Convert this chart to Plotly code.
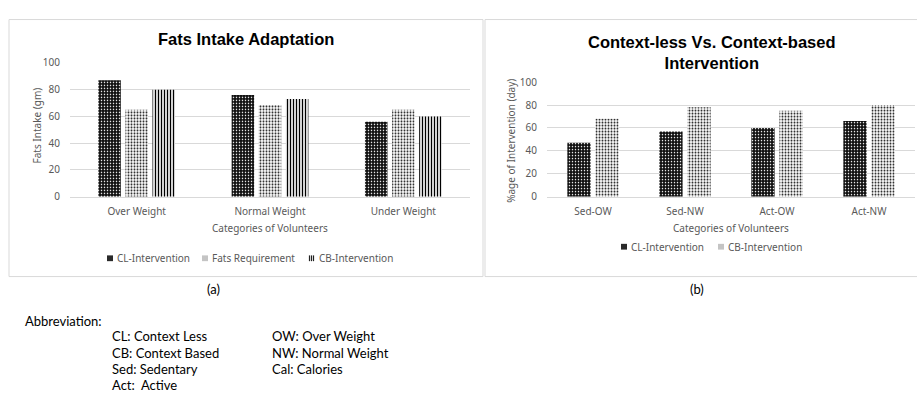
import plotly.graph_objects as go

W, H = 917, 401

# ---- data: chart (a)
cats_a = ["Over Weight", "Normal Weight", "Under Weight"]
cl_a = [87, 76, 56]
fats_req = [65, 68.5, 65]
cb_a = [80, 73, 60]

# ---- data: chart (b)
cats_b = ["Sed-OW", "Sed-NW", "Act-OW", "Act-NW"]
cl_b = [47, 57, 60, 66]
cb_b = [68, 78, 75, 80]

y_ticks = [0, 20, 40, 60, 80, 100]

def px_x(p):
    return p / W

def px_y(p):
    return 1 - p / H

PAT_CL = dict(shape=".", bgcolor="#111111", fgcolor="white", size=3, solidity=0.2, fillmode="replace")
PAT_DOT = dict(shape=".", bgcolor="white", fgcolor="#222222", size=3, solidity=0.35, fillmode="replace")
PAT_VERT = dict(shape="|", bgcolor="white", fgcolor="black", size=3, solidity=0.45, fillmode="replace")

fig = go.Figure()
fig.add_trace(go.Bar(x=cats_a, y=cl_a, name="CL-Intervention", xaxis="x", yaxis="y",
                     marker=dict(color="#111111", pattern=PAT_CL, line=dict(width=0))))
fig.add_trace(go.Bar(x=cats_a, y=fats_req, name="Fats Requirement", xaxis="x", yaxis="y",
                     marker=dict(color="white", pattern=PAT_DOT, line=dict(width=0))))
fig.add_trace(go.Bar(x=cats_a, y=cb_a, name="CB-Intervention", xaxis="x", yaxis="y",
                     marker=dict(color="white", pattern=PAT_VERT, line=dict(width=0))))
fig.add_trace(go.Bar(x=cats_b, y=cl_b, name="CL-Intervention", xaxis="x2", yaxis="y2",
                     marker=dict(color="#111111", pattern=PAT_CL, line=dict(width=0))))
fig.add_trace(go.Bar(x=cats_b, y=cb_b, name="CB-Intervention", xaxis="x2", yaxis="y2",
                     marker=dict(color="white", pattern=PAT_DOT, line=dict(width=0))))

FAM = "Noto Sans, DejaVu Sans, sans-serif"
tick_font = dict(family=FAM, size=10, color="#595959")
grid = "#d9d9d9"

axis_common_y = dict(range=[0, 100], tickvals=y_ticks, showgrid=True, gridcolor=grid, gridwidth=1,
                     zeroline=False, showline=False, tickfont=tick_font, ticks="", ticklabelstandoff=9,
                     fixedrange=True)
axis_common_x = dict(showgrid=False, showline=True, linecolor=grid, linewidth=1, zeroline=False,
                     tickfont=tick_font, ticks="", ticklabelstandoff=5, fixedrange=True)

fig.update_layout(
    width=W, height=H,
    margin=dict(l=0, r=0, t=0, b=0),
    paper_bgcolor="white", plot_bgcolor="white",
    showlegend=False,
    barmode="group", bargap=0.39, bargroupgap=0.17,
    xaxis=dict(domain=[px_x(70), px_x(470)], anchor="y", **axis_common_x),
    yaxis=dict(domain=[px_y(196), px_y(57)], anchor="x", **axis_common_y),
    xaxis2=dict(domain=[px_x(547), px_x(915)], anchor="y2", **axis_common_x),
    yaxis2=dict(domain=[px_y(196), px_y(77)], anchor="x2", **axis_common_y),
)

# chart borders
fig.add_shape(type="rect", xref="paper", yref="paper", x0=px_x(9), x1=px_x(483),
              y0=px_y(279), y1=px_y(12), line=dict(color="#d9d9d9", width=1), layer="below")
fig.add_shape(type="rect", xref="paper", yref="paper", x0=px_x(485), x1=px_x(940),
              y0=px_y(279), y1=px_y(12), line=dict(color="#d9d9d9", width=1), layer="below")

title_font = dict(family="Liberation Sans, Arial, sans-serif", size=16.5, color="black")
lab_font = dict(family=FAM, size=10, color="#595959")
doc_font = dict(family="Lato, Noto Sans, sans-serif", size=13, color="black")

def ann(text, x, y, font, xanchor="center", angle=0):
    fig.add_annotation(text=text, x=px_x(x), y=px_y(y), xref="paper", yref="paper",
                       showarrow=False, font=font, xanchor=xanchor, yanchor="middle",
                       textangle=angle)

ann("<b>Fats Intake Adaptation</b>", 246, 32, title_font)
ann("<b>Context-less Vs. Context-based<br>Intervention</b>", 712, 46, title_font)
ann("Categories of Volunteers", 270, 229, lab_font)
ann("Categories of Volunteers", 731, 229, lab_font)
ann("Fats Intake (gm)", 37, 122, lab_font, angle=-90)
ann("%age of Intervention (day)", 511, 138, lab_font, angle=-90)

# ---- manual legends (small swatches + text)
def swatch(x, y, kind):
    x0, x1, y0, y1 = px_x(x - 3), px_x(x + 3), px_y(y + 3), px_y(y - 3)
    if kind == "cl":
        fig.add_shape(type="rect", xref="paper", yref="paper", x0=x0, x1=x1, y0=y0, y1=y1,
                      fillcolor="#2a2a2a", line=dict(width=0))
    elif kind == "dot":
        fig.add_shape(type="rect", xref="paper", yref="paper", x0=x0, x1=x1, y0=y0, y1=y1,
                      fillcolor="#c4c4c4", line=dict(width=0))
    else:
        for dx in (-2.5, -0.5, 1.5):
            fig.add_shape(type="line", xref="paper", yref="paper", x0=px_x(x + dx), x1=px_x(x + dx),
                          y0=y0, y1=y1, line=dict(color="#222222", width=1.2))

leg_font = dict(family=FAM, size=10, color="#595959")
legend_a = [("CL-Intervention", 110, "cl"), ("Fats Requirement", 205, "dot"), ("CB-Intervention", 312, "vert")]
for name, sx, kind in legend_a:
    swatch(sx, 260, kind)
    ann(name, sx + 5, 260, leg_font, xanchor="left")
legend_b = [("CL-Intervention", 624, "cl"), ("CB-Intervention", 721, "dot")]
for name, sx, kind in legend_b:
    swatch(sx, 248, kind)
    ann(name, sx + 5, 248, leg_font, xanchor="left")

# ---- captions and abbreviations
ann("(a)", 213, 292, doc_font)
ann("(b)", 697, 292, doc_font)
ann("Abbreviation:", 23, 325, doc_font, xanchor="left")
col1 = ["CL: Context Less", "CB: Context Based", "Sed: Sedentary", "Act:&nbsp; Active"]
col2 = ["OW: Over Weight", "NW: Normal Weight", "Cal: Calories"]
rows_y = [341, 358, 375, 392]
for t, yy in zip(col1, rows_y):
    ann(t, 110, yy, doc_font, xanchor="left")
for t, yy in zip(col2, rows_y):
    ann(t, 270, yy, doc_font, xanchor="left")

fig.write_html("out.html", config={"displayModeBar": False},
               post_script="document.body.style.margin='0px';")
